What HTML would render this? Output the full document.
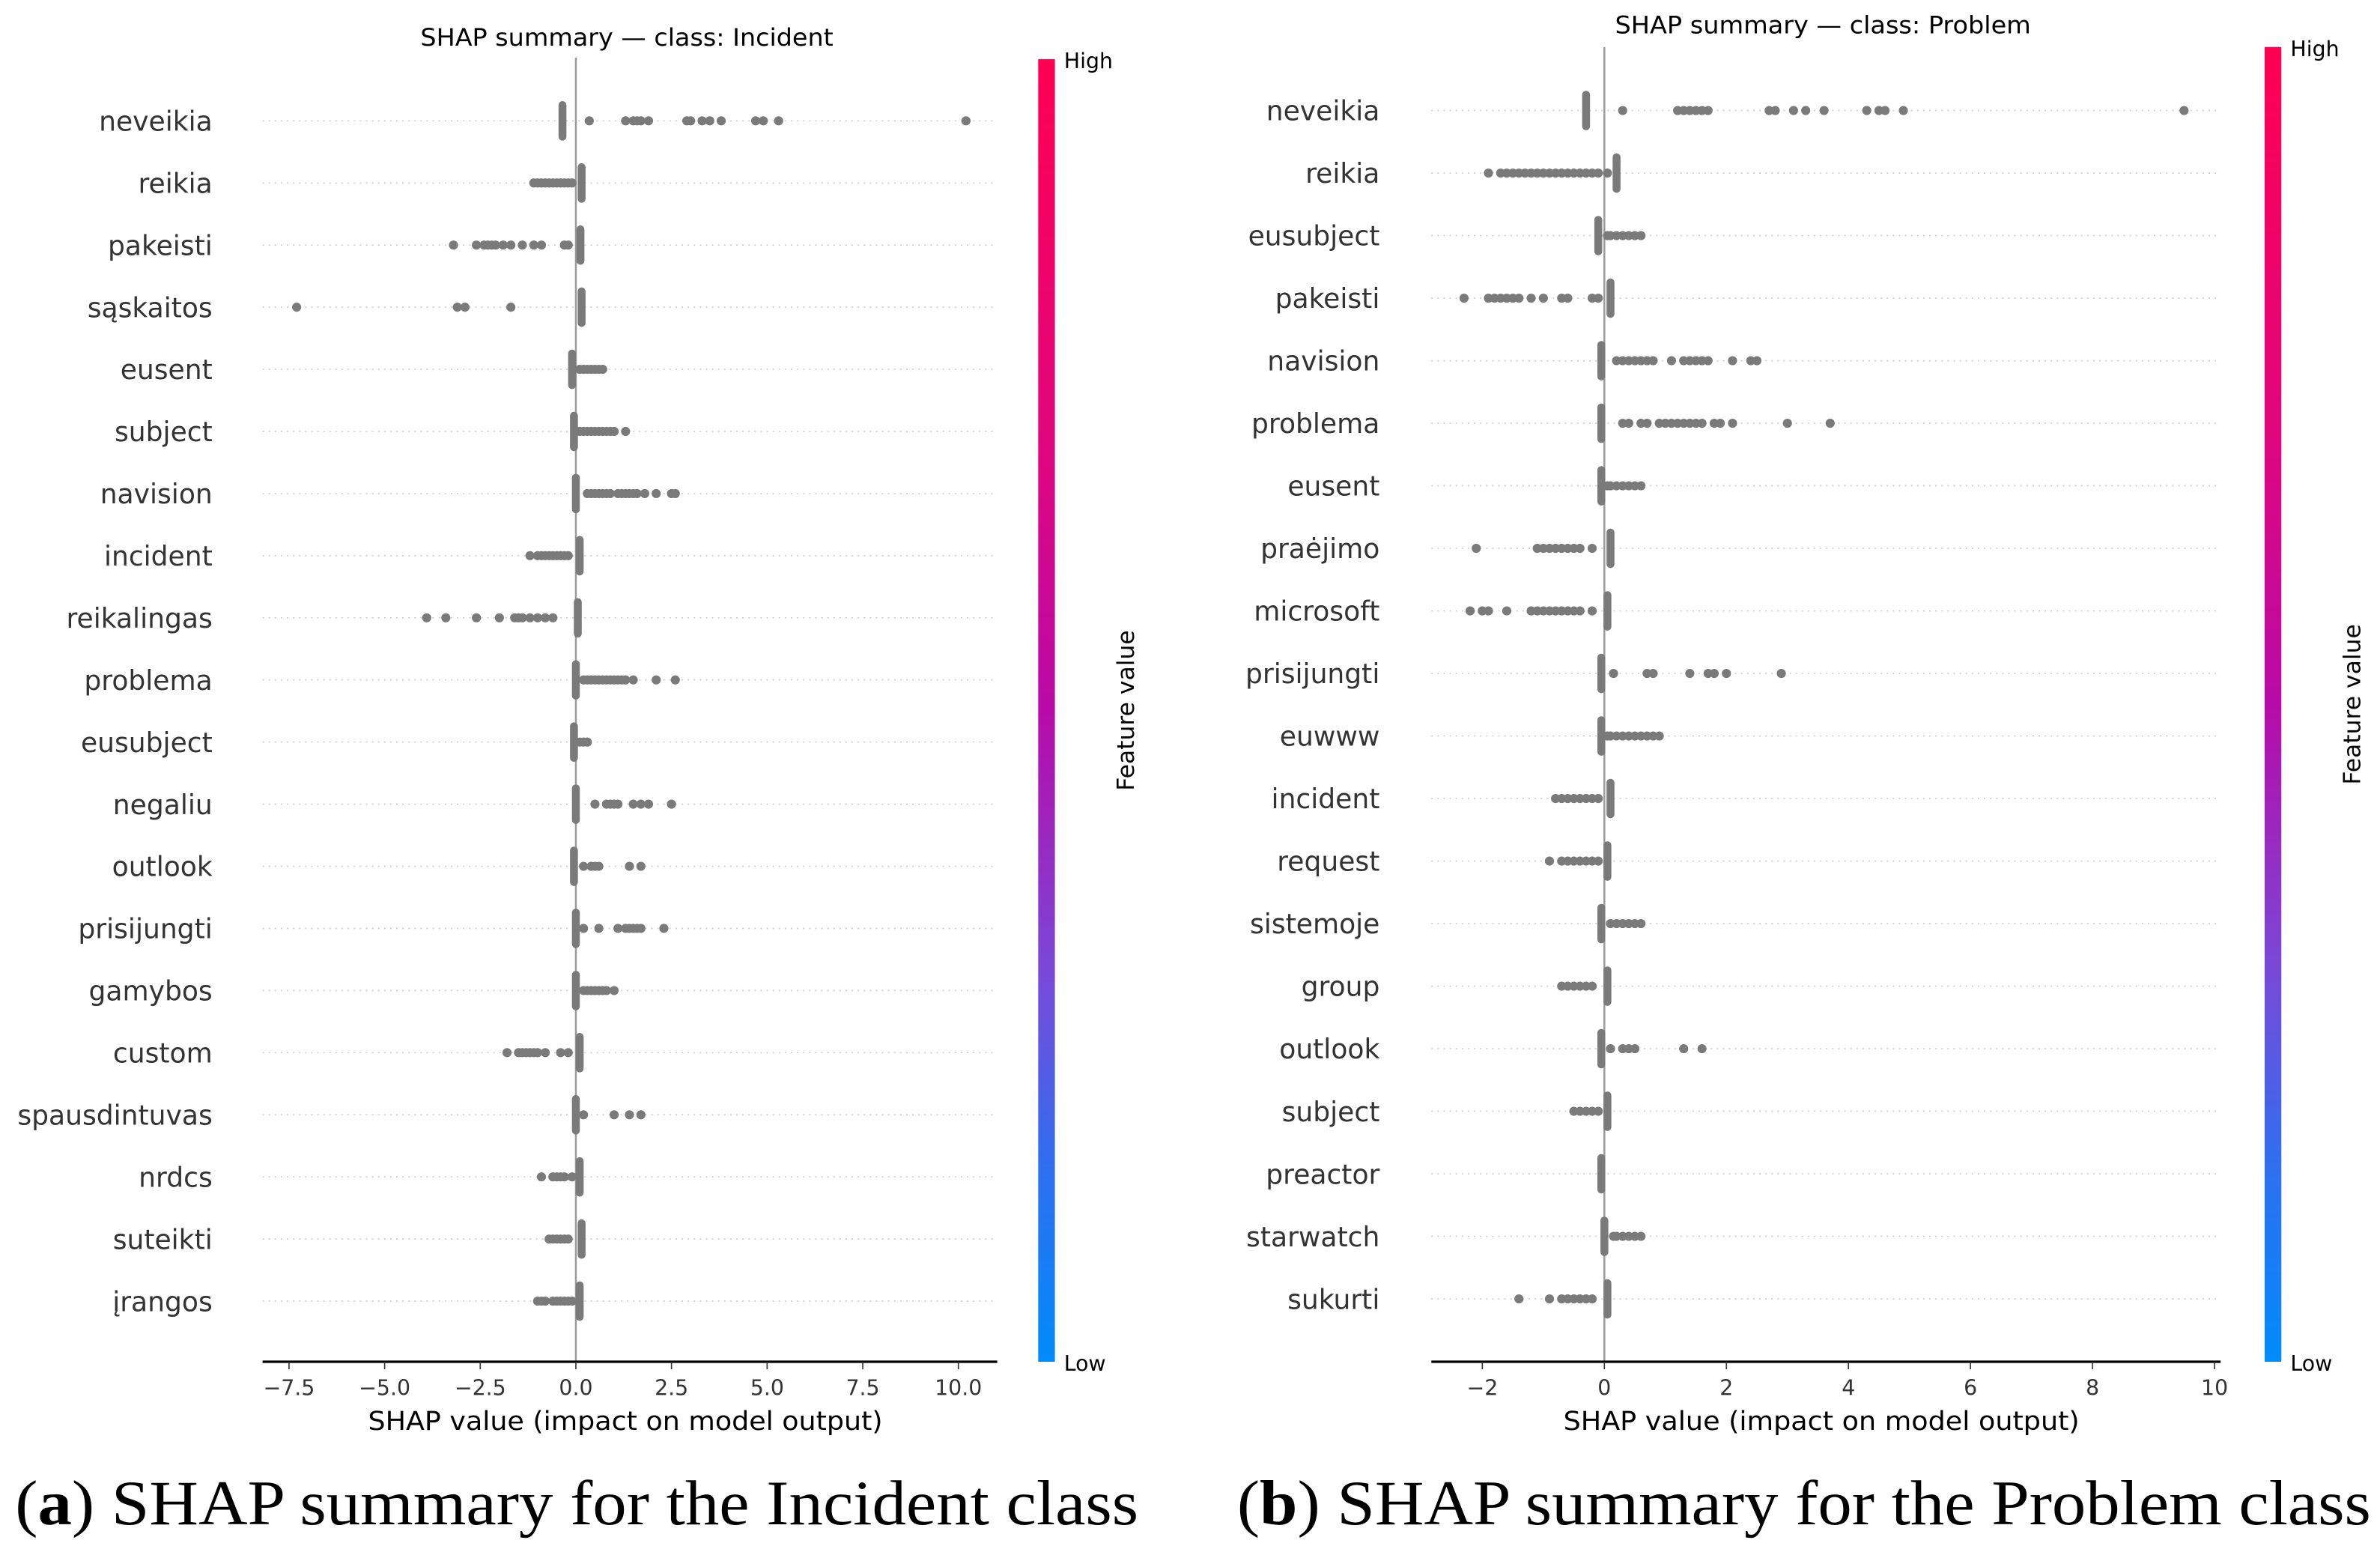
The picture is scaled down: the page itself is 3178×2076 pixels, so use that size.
<!DOCTYPE html>
<html><head><meta charset="utf-8"><style>
html,body{margin:0;padding:0;background:#fff;}
svg{display:block;}
text{font-family:"DejaVu Sans","Liberation Sans",sans-serif;}
.cap{font-family:"Liberation Serif",serif;}
</style></head><body>
<svg id="root" width="3178" height="2076" viewBox="0 0 1568 1024.3" preserveAspectRatio="none" xmlns="http://www.w3.org/2000/svg">
<defs>
<linearGradient id="cmap" x1="0" y1="0" x2="0" y2="1">
<stop offset="0" stop-color="#ff0052"/><stop offset="0.3" stop-color="#e0067f"/><stop offset="0.5" stop-color="#b80aa8"/><stop offset="0.7" stop-color="#7a48d8"/><stop offset="0.85" stop-color="#2f6ff0"/><stop offset="1" stop-color="#008bfb"/>
</linearGradient>
</defs>
<g id="chartA"></g>
<g id="chartB"></g>
<text class="cap" x="10" y="1004" font-size="42" textLength="740" lengthAdjust="spacingAndGlyphs">(<tspan font-weight="bold">a</tspan>) SHAP summary for the Incident class</text>
<text class="cap" x="815" y="1004" font-size="42" textLength="747" lengthAdjust="spacingAndGlyphs">(<tspan font-weight="bold">b</tspan>) SHAP summary for the Problem class</text>
</svg>
<script>
const featuresA = ["neveikia","reikia","pakeisti","sąskaitos","eusent","subject","navision","incident","reikalingas","problema","eusubject","negaliu","outlook","prisijungti","gamybos","custom","spausdintuvas","nrdcs","suteikti","įrangos"];
const bulkA = [-0.35,0.15,0.12,0.15,-0.1,-0.05,0.0,0.1,0.05,0.0,-0.05,0.0,-0.05,0.0,0.0,0.1,0.0,0.1,0.15,0.1];
const dotsA = [
 [0.35,1.3,1.5,1.6,1.7,1.9,2.9,3.0,3.3,3.5,3.8,4.7,4.9,5.3,10.2],
 [-1.1,-1.0,-0.9,-0.8,-0.7,-0.6,-0.5,-0.4,-0.3,-0.2,-0.1],
 [-3.2,-2.6,-2.4,-2.3,-2.2,-2.1,-1.9,-1.7,-1.4,-1.1,-0.9,-0.3,-0.2],
 [-7.3,-3.1,-2.9,-1.7],
 [0.1,0.2,0.3,0.4,0.5,0.6,0.7],
 [0.1,0.2,0.3,0.4,0.5,0.6,0.7,0.8,0.9,1.0,1.3],
 [0.3,0.4,0.5,0.6,0.7,0.8,0.9,1.1,1.2,1.3,1.4,1.5,1.6,1.8,2.1,2.5,2.6],
 [-1.2,-1.0,-0.9,-0.8,-0.7,-0.6,-0.5,-0.4,-0.3,-0.2],
 [-3.9,-3.4,-2.6,-2.0,-1.6,-1.5,-1.4,-1.2,-1.0,-0.8,-0.6],
 [0.2,0.3,0.4,0.5,0.6,0.7,0.8,0.9,1.0,1.1,1.2,1.3,1.5,2.1,2.6],
 [0.1,0.2,0.3],
 [0.5,0.8,0.9,1.0,1.1,1.5,1.7,1.9,2.5],
 [0.2,0.4,0.5,0.6,1.4,1.7],
 [0.2,0.6,1.1,1.3,1.4,1.5,1.6,1.7,2.3],
 [0.2,0.3,0.4,0.5,0.6,0.7,0.8,1.0],
 [-1.8,-1.5,-1.4,-1.3,-1.2,-1.1,-1.0,-0.8,-0.4,-0.2],
 [0.2,1.0,1.4,1.7],
 [-0.9,-0.6,-0.5,-0.4,-0.3,-0.1],
 [-0.7,-0.6,-0.5,-0.4,-0.3,-0.2],
 [-1.0,-0.9,-0.8,-0.6,-0.5,-0.4,-0.3,-0.2,-0.1]
];
const ticksA = [-7.5,-5.0,-2.5,0.0,2.5,5.0,7.5,10.0];
const tickLabelsA = ["−7.5","−5.0","−2.5","0.0","2.5","5.0","7.5","10.0"];

const featuresB = ["neveikia","reikia","eusubject","pakeisti","navision","problema","eusent","praėjimo","microsoft","prisijungti","euwww","incident","request","sistemoje","group","outlook","subject","preactor","starwatch","sukurti"];
const bulkB = [-0.3,0.2,-0.1,0.1,-0.05,-0.05,-0.05,0.1,0.05,-0.05,-0.05,0.1,0.05,-0.05,0.05,-0.05,0.05,-0.05,0.0,0.05];
const dotsB = [
 [0.3,1.2,1.3,1.4,1.5,1.6,1.7,2.7,2.8,3.1,3.3,3.6,4.3,4.5,4.6,4.9,9.5],
 [-1.9,-1.7,-1.6,-1.5,-1.4,-1.3,-1.2,-1.1,-1.0,-0.9,-0.8,-0.7,-0.6,-0.5,-0.4,-0.3,-0.2,-0.1,0.05],
 [0.05,0.1,0.2,0.3,0.4,0.5,0.6],
 [-2.3,-1.9,-1.8,-1.7,-1.6,-1.5,-1.4,-1.2,-1.0,-0.7,-0.6,-0.2,-0.1],
 [0.2,0.3,0.4,0.5,0.6,0.7,0.8,1.1,1.3,1.4,1.5,1.6,1.7,2.1,2.4,2.5],
 [0.3,0.4,0.6,0.7,0.9,1.0,1.1,1.2,1.3,1.4,1.5,1.6,1.8,1.9,2.1,3.0,3.7],
 [0.05,0.1,0.2,0.3,0.4,0.5,0.6],
 [-2.1,-1.1,-1.0,-0.9,-0.8,-0.7,-0.6,-0.5,-0.4,-0.2],
 [-2.2,-2.0,-1.9,-1.6,-1.2,-1.1,-1.0,-0.9,-0.8,-0.7,-0.6,-0.5,-0.4,-0.2],
 [0.15,0.7,0.8,1.4,1.7,1.8,2.0,2.9],
 [0.05,0.1,0.2,0.3,0.4,0.5,0.6,0.7,0.8,0.9],
 [-0.8,-0.7,-0.6,-0.5,-0.4,-0.3,-0.2,-0.1],
 [-0.9,-0.7,-0.6,-0.5,-0.4,-0.3,-0.2,-0.1],
 [0.1,0.2,0.3,0.4,0.5,0.6],
 [-0.7,-0.6,-0.5,-0.4,-0.3,-0.2],
 [0.1,0.3,0.4,0.5,1.3,1.6],
 [-0.5,-0.4,-0.3,-0.2,-0.1],
 [],
 [0.15,0.2,0.3,0.4,0.5,0.6],
 [-1.4,-0.9,-0.7,-0.6,-0.5,-0.4,-0.3,-0.2]
];
const ticksB = [-2,0,2,4,6,8,10];
const tickLabelsB = ["−2","0","2","4","6","8","10"];

const NS = "http://www.w3.org/2000/svg";
function mk(parent, tag, attrs, txt){
  const e = document.createElementNS(NS, tag);
  for (const k in attrs) e.setAttribute(k, attrs[k]);
  if (txt !== undefined) e.textContent = txt;
  parent.appendChild(e);
  return e;
}

function drawChart(g, cfg){
  const xs = v => cfg.x0 + v * cfg.unit;
  const ys = i => cfg.y0 + i * cfg.step;
  const t = mk(g, "text", {x: cfg.titleX, y: cfg.titleY, "font-size": 16, "text-anchor": "middle", fill: "#000", textLength: cfg.titleLen, lengthAdjust: "spacingAndGlyphs"}, cfg.title);
  
  
  cfg.features.forEach((f, i) => {
    const gl = mk(g, "line", {x1: cfg.axL, x2: cfg.axR, y1: ys(i), y2: ys(i), stroke: "#cccccc", "stroke-width": 0.8, "stroke-dasharray": "1 3"});
    
    
    const lb = mk(g, "text", {x: cfg.labelX, y: ys(i) + 6.5, "font-size": 17.8, "text-anchor": "end", fill: "#333"}, f);
    
    
  });
  const zl = mk(g, "line", {x1: xs(0), x2: xs(0), y1: cfg.zeroTop, y2: cfg.axY, stroke: "#999", "stroke-width": 1.2});
  
  
  cfg.features.forEach((f, i) => {
    const bx = xs(cfg.bulk[i]);
    const b = mk(g, "rect", {x: bx - 2.6, y: ys(i) - 13, width: 5.2, height: 26, rx: 2.6, fill: "#7a7a7a"});
    
    
    cfg.dots[i].forEach(v => {
      const c = mk(g, "circle", {cx: xs(v), cy: ys(i), r: 3, fill: "#7a7a7a"});
      
      
    });
  });
  const ax = mk(g, "line", {x1: cfg.axL, x2: cfg.axR, y1: cfg.axY, y2: cfg.axY, stroke: "#000", "stroke-width": 1.6});
  
  
  cfg.ticks.forEach((v, k) => {
    const tk = mk(g, "line", {x1: xs(v), x2: xs(v), y1: cfg.axY, y2: cfg.axY + 5, stroke: "#333", "stroke-width": 0.8});
    
    
    const tl = mk(g, "text", {x: xs(v), y: cfg.axY + 22, "font-size": 14, "text-anchor": "middle", fill: "#333"}, cfg.tickLabels[k]);
    
    
  });
  const xl = mk(g, "text", {x: cfg.xTitleX, y: cfg.axY + 45, "font-size": 17, "text-anchor": "middle", fill: "#000", textLength: cfg.xTitleLen, lengthAdjust: "spacingAndGlyphs"}, "SHAP value (impact on model output)");
  
  
  const cb = mk(g, "rect", {x: cfg.cbX, y: cfg.cbTop, width: 11, height: cfg.axY - cfg.cbTop, fill: "url(#cmap)"});
  
  
  const hi = mk(g, "text", {x: cfg.cbX + 17, y: cfg.cbTop + 6, "font-size": 14, fill: "#000"}, "High");
  
  
  const lo = mk(g, "text", {x: cfg.cbX + 17, y: cfg.axY + 6, "font-size": 14, fill: "#000"}, "Low");
  
  
  const fvY = (cfg.cbTop + cfg.axY) / 2;
  const fx = cfg.cbX + 63;
  const fv = mk(g, "text", {x: fx, y: fvY, "font-size": 15.5, "text-anchor": "middle", fill: "#000", transform: `rotate(-90 ${fx} ${fvY})`}, "Feature value");
  
  
}

drawChart(document.getElementById("chartA"), {
  features: featuresA, bulk: bulkA, dots: dotsA, ticks: ticksA, tickLabels: tickLabelsA,
  x0: 379.4, unit: 25.2, y0: 79.6, step: 40.92, axL: 173, axR: 657, axY: 897,
  labelX: 140, zeroTop: 38, title: "SHAP summary — class: Incident", titleX: 413, titleY: 30, titleLen: 272,
  xTitleX: 412, xTitleLen: 339,
  cbX: 684, cbTop: 39
});
drawChart(document.getElementById("chartB"), {
  features: featuresB, bulk: bulkB, dots: dotsB, ticks: ticksB, tickLabels: tickLabelsB,
  x0: 1057, unit: 40.2, y0: 72.8, step: 41.2, axL: 943, axR: 1463, axY: 897,
  labelX: 909, zeroTop: 31, title: "SHAP summary — class: Problem", titleX: 1201, titleY: 22, titleLen: 274,
  xTitleX: 1200, xTitleLen: 340,
  cbX: 1492, cbTop: 31
});
</script>
</body></html>
